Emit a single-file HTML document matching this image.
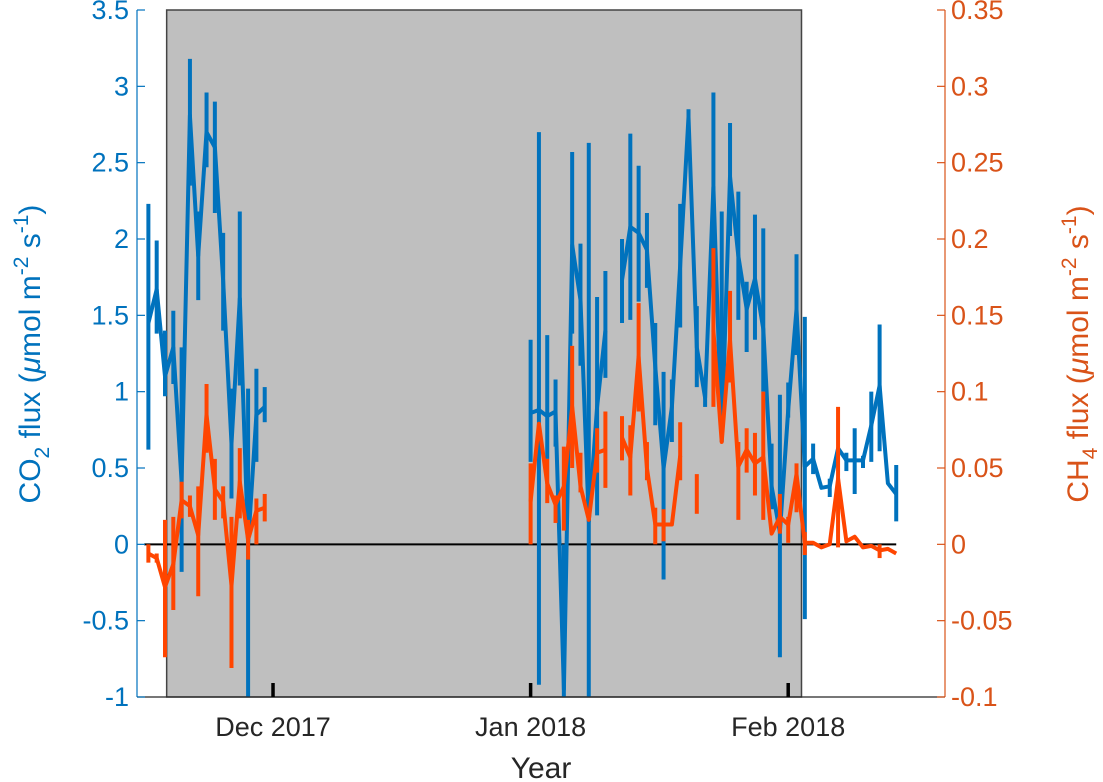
<!DOCTYPE html>
<html><head><meta charset="utf-8"><style>
body{margin:0;background:#fff;}
svg{display:block;font-family:"Liberation Sans",sans-serif;}
</style></head><body>
<svg id="chart" width="1103" height="782" viewBox="0 0 1103 782" xmlns="http://www.w3.org/2000/svg"></svg>
<script>
// days relative to 1 Dec 2017
const days1 = [-15,-14,-13,-12,-11,-10,-9,-8,-7,-6,-5,-4,-3,-2,-1];
const co2_1 = [1.45,1.67,1.1,1.29,0.41,2.81,1.89,2.7,2.6,1.72,0.66,1.61,0.0,0.85,0.9];
const co2Lo_1 = [0.62,1.38,0.97,1.05,-0.18,2.35,1.6,2.47,2.17,1.4,0.3,1.04,-1.0,0.54,0.8];
const co2Hi_1 = [2.23,1.99,1.4,1.53,1.29,3.18,2.18,2.96,2.9,2.04,1.02,2.18,1.02,1.15,1.03];
const ch4_1 = [-0.006,-0.009,-0.028,-0.013,0.029,0.025,0.006,0.085,0.036,0.028,-0.027,0.041,0.003,0.022,0.024];
const ch4Lo_1 = [-0.012,-0.012,-0.074,-0.043,0.017,0.018,-0.034,0.06,0.016,0.017,-0.081,0.017,-0.01,0.0,0.015];
const ch4Hi_1 = [0.0,-0.006,0.016,0.018,0.041,0.032,0.038,0.105,0.056,0.038,0.018,0.063,0.016,0.03,0.033];

const days2 = [31,32,33,34,35,36,37,38,39,40,41,42,43,44,45,46,47,48,49,50,51,52,53,54,55,56,57,58,59,60,61,62,63,64,65,66,67,68,69,70,71,72,73,74,75];
const co2_2 = [0.86,0.88,0.84,0.87,-0.95,1.96,1.6,0.15,0.9,1.4,null,1.73,2.08,2.04,1.93,1.16,0.5,0.9,1.83,2.8,1.29,0.96,2.34,0.7,2.41,1.89,1.54,1.74,1.41,0.38,0.08,0.88,1.54,0.51,0.56,0.37,0.38,0.63,0.55,0.55,0.55,0.78,1.04,0.4,0.33];
const co2Lo_2 = [0.54,-0.92,0.56,0.64,-1.5,1.38,1.17,-1.0,0.19,1.09,null,1.45,1.47,1.59,1.68,0.78,-0.23,0.67,1.42,2.75,1.03,0.9,1.94,0.67,2.02,1.47,1.26,1.34,1.0,0.23,-0.74,0.83,1.24,-0.49,0.46,0.37,0.31,0.63,0.48,0.33,0.5,0.54,0.61,0.4,0.15];
const co2Hi_2 = [1.34,2.7,1.37,1.08,0.0,2.57,1.97,2.63,1.62,1.79,null,2.0,2.69,2.48,2.17,1.45,1.13,1.08,2.23,2.85,1.56,1.0,2.96,2.18,2.76,2.31,1.72,2.16,2.07,0.66,0.98,1.06,1.9,1.49,0.66,0.37,0.43,0.63,0.6,0.76,0.58,1.0,1.44,0.4,0.52];
const ch4_2 = [0.028,0.079,0.04,0.026,0.038,0.09,0.038,0.016,0.06,0.062,null,0.07,0.057,0.123,0.05,0.013,0.013,0.013,0.058,null,0.033,null,0.14,0.067,0.134,0.051,0.062,0.053,0.057,0.007,0.018,0.013,0.046,0.001,0.001,-0.002,0,0.043,0.002,0.005,-0.002,-0.001,-0.004,-0.003,-0.006];
const ch4Lo_2 = [0.0,0.079,0.027,0.014,0.009,0.05,0.034,0.016,0.047,0.037,null,0.055,0.032,0.087,0.042,0.0,0.002,0.013,0.042,null,0.02,null,0.09,0.067,0.106,0.016,0.047,0.032,0.016,0.007,0.007,0.001,0.021,-0.007,0.001,-0.002,0,-0.002,0.002,0.005,-0.002,-0.001,-0.009,-0.003,-0.006];
const ch4Hi_2 = [0.053,0.079,0.056,0.032,0.064,0.13,0.06,0.016,0.076,0.087,null,0.084,0.078,0.158,0.067,0.024,0.023,0.013,0.08,null,0.046,null,0.194,0.067,0.166,0.067,0.076,0.073,0.1,0.007,0.033,0.018,0.053,0.008,0.001,-0.002,0,0.09,0.002,0.005,-0.002,-0.001,0,-0.003,-0.006];

const leftTicks = [-1,-0.5,0,0.5,1,1.5,2,2.5,3,3.5];
const leftTickLabels = ["-1","-0.5","0","0.5","1","1.5","2","2.5","3","3.5"];
const rightTicks = [-0.1,-0.05,0,0.05,0.1,0.15,0.2,0.25,0.3,0.35];
const rightTickLabels = ["-0.1","-0.05","0","0.05","0.1","0.15","0.2","0.25","0.3","0.35"];
const xTicks = [0,31,62];
const xTickLabels = ["Dec 2017","Jan 2018","Feb 2018"];
const shadeRange = [-12.8,63.6];

const L=137,R=945,T=10,B=697;
const xMin=-16.37,xMax=80.87;
const x = d => L + (d - xMin) / (xMax - xMin) * (R - L);
const yL = v => B - (v + 1) / 4.5 * (B - T);
const yR = v => B - (v + 0.1) / 0.45 * (B - T);
const NS="http://www.w3.org/2000/svg";
const svg=document.getElementById('chart');
function mk(tag, attrs, parent){const e=document.createElementNS(NS,tag);for(const k in attrs)e.setAttribute(k,attrs[k]);(parent||svg).appendChild(e);return e;}

const defs=mk('defs',{});
const cp=mk('clipPath',{id:'clip'},defs);
mk('rect',{x:L,y:T,width:R-L,height:B-T},cp);

let shade=mk('rect',{x:x(shadeRange[0]),y:T,width:x(shadeRange[1])-x(shadeRange[0]),height:B-T,fill:'#bfbfbf',stroke:'#444','stroke-width':1.5});



const g=mk('g',{'clip-path':'url(#clip)'});



let zl=mk('line',{x1:x(-15.5),x2:x(75),y1:yL(0),y2:yL(0),stroke:'#000','stroke-width':2},g);



function series(days, vals, lo, hi, yf, color, name){
  const sg=mk('g',{},g);
  
  
  for(let i=0;i<days.length;i++){
    if(vals[i]===null)continue;
    const eb=mk('line',{x1:x(days[i]),x2:x(days[i]),y1:yf(lo[i]),y2:yf(hi[i]),stroke:color,'stroke-width':4},sg);
    
    
  }
  let d='',pen=false;
  for(let i=0;i<days.length;i++){
    if(vals[i]===null){pen=false;continue;}
    d+=(pen?'L':'M')+x(days[i]).toFixed(1)+' '+yf(vals[i]).toFixed(1)+' ';pen=true;
  }
  const p=mk('path',{d:d,fill:'none',stroke:color,'stroke-width':4,'stroke-linejoin':'round'},sg);
  
  
}
const BLUE='#0072BD',ORG='#FF4500';
series(days1,co2_1,co2Lo_1,co2Hi_1,yL,BLUE,'co2-series-nov');
series(days2,co2_2,co2Lo_2,co2Hi_2,yL,BLUE,'co2-series-jan');
series(days1,ch4_1,ch4Lo_1,ch4Hi_1,yR,ORG,'ch4-series-nov');
series(days2,ch4_2,ch4Lo_2,ch4Hi_2,yR,ORG,'ch4-series-jan');

// axes
let la=mk('line',{x1:L,x2:L,y1:T,y2:B,stroke:BLUE,'stroke-width':1.2});

let ra=mk('line',{x1:R,x2:R,y1:T,y2:B,stroke:'#D95319','stroke-width':1.2});

let ba=mk('line',{x1:L,x2:R,y1:B,y2:B,stroke:'#262626','stroke-width':1.2});


leftTicks.forEach((v,i)=>{
  mk('line',{x1:L,x2:L+8,y1:yL(v),y2:yL(v),stroke:BLUE,'stroke-width':1.2});
  const t=mk('text',{x:L-8,y:yL(v)+9,'text-anchor':'end','font-size':27,fill:BLUE});
  t.textContent=leftTickLabels[i];
  
  
});
rightTicks.forEach((v,i)=>{
  mk('line',{x1:R-8,x2:R,y1:yR(v),y2:yR(v),stroke:'#D95319','stroke-width':1.2});
  const t=mk('text',{x:R+6,y:yR(v)+9,'text-anchor':'start','font-size':27,fill:'#D95319'});
  t.textContent=rightTickLabels[i];
  
  
});
xTicks.forEach((v,i)=>{
  mk('line',{x1:x(v),x2:x(v),y1:B,y2:B-14,stroke:'#000','stroke-width':3.5});
  const t=mk('text',{x:x(v),y:736,'text-anchor':'middle','font-size':27,fill:'#262626'});
  t.textContent=xTickLabels[i];
  
  
});
</script>
<svg style="position:absolute;left:0;top:0" width="1103" height="782">
<text x="541" y="778" text-anchor="middle" font-size="30" fill="#262626" font-family="Liberation Sans, sans-serif">Year</text>
<text transform="translate(40,354) rotate(-90)" text-anchor="middle" font-size="30" fill="#0072BD" font-family="Liberation Sans, sans-serif">CO<tspan font-size="21" dy="9">2</tspan><tspan dy="-9"> flux (</tspan><tspan font-style="italic">μ</tspan>mol m<tspan font-size="21" dy="-12">-2</tspan><tspan dy="12"> s</tspan><tspan font-size="21" dy="-12">-1</tspan><tspan dy="12">)</tspan></text>
<text transform="translate(1088,354) rotate(-90)" text-anchor="middle" font-size="30" fill="#D95319" font-family="Liberation Sans, sans-serif">CH<tspan font-size="21" dy="9">4</tspan><tspan dy="-9"> flux (</tspan><tspan font-style="italic">μ</tspan>mol m<tspan font-size="21" dy="-12">-2</tspan><tspan dy="12"> s</tspan><tspan font-size="21" dy="-12">-1</tspan><tspan dy="12">)</tspan></text>
</svg>
</body></html>
